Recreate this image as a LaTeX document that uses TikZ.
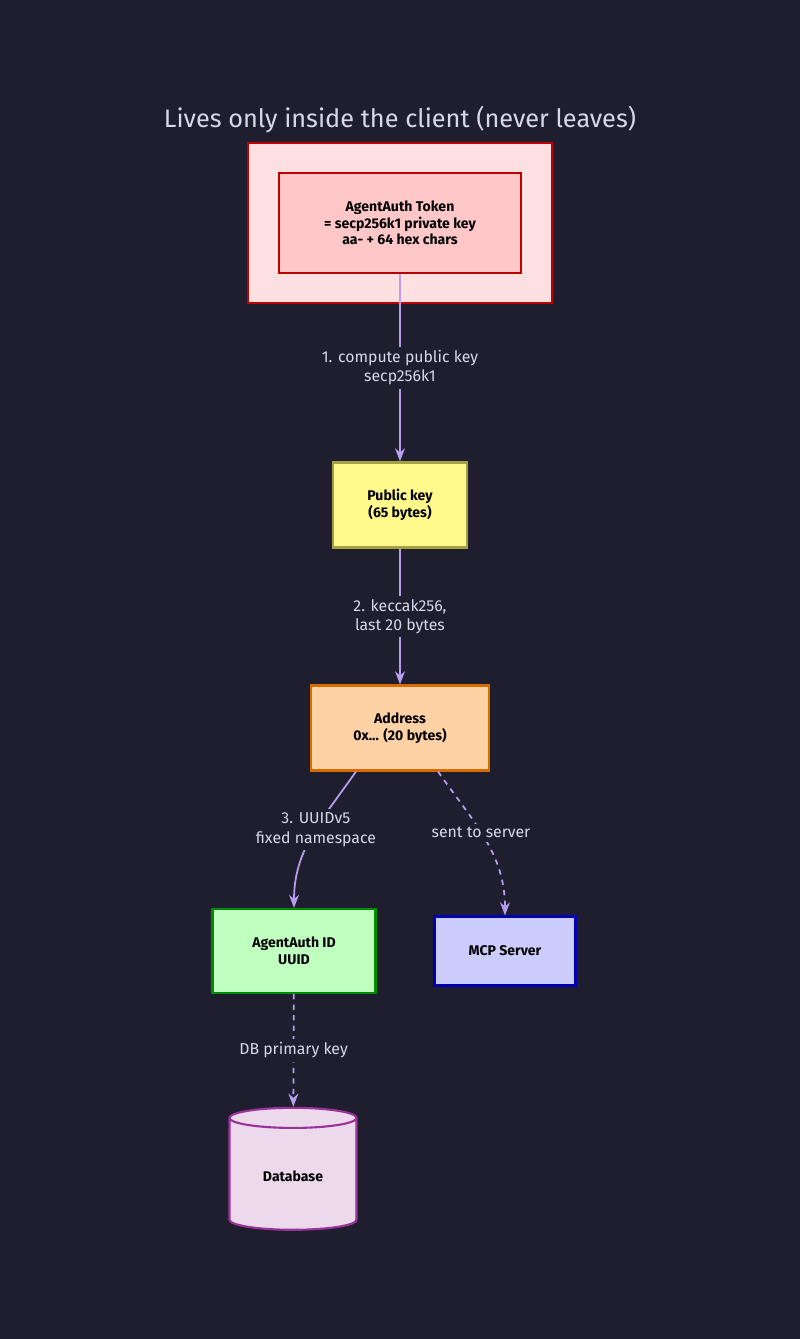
\documentclass[tikz,border=0pt]{standalone}
\usepackage{fontspec}
\setmainfont{Fira Sans}
\usetikzlibrary{positioning,shapes.geometric,arrows.meta}
\definecolor{bgdark}{HTML}{1E1E2E}
\definecolor{flow}{HTML}{B69DF0}
\definecolor{labeltext}{HTML}{D8D8E8}
\begin{document}
\begin{tikzpicture}[>=Stealth,semithick,x=0.02cm,y=-0.02cm,
  box/.style={draw,line width=1.2pt,align=center,font=\footnotesize\bfseries,text=black,inner sep=2pt},
  flowarrow/.style={->,draw=flow,line width=1pt},
  steplabel/.style={fill=bgdark,text=labeltext,font=\small,align=center,inner sep=2pt}]
\fill[bgdark] (0,0) rectangle (800,1339);
\useasboundingbox (0,0) rectangle (800,1339);
\node[text=labeltext,font=\Large] (title) at (400,120) {Lives only inside the client (never leaves)};
\node[box,draw=red!75!black,fill=red!12,minimum width=6.08cm,minimum height=3.2cm] (outer) at (400,223) {};
\node[box,draw=red!75!black,fill=red!22,minimum width=4.84cm,minimum height=2cm] (token) at (400,223)
  {AgentAuth Token\\= secp256k1 private key\\aa- + 64 hex chars};
\node[box,draw=yellow!60!black,fill=yellow!45,minimum width=2.68cm,minimum height=1.7cm] (pubkey) at (400,505)
  {Public key\\(65 bytes)};
\node[box,draw=orange!85!black,fill=orange!35,minimum width=3.56cm,minimum height=1.7cm] (addr) at (400,728)
  {Address\\0x... (20 bytes)};
\node[box,draw=green!55!black,fill=green!25,minimum width=3.26cm,minimum height=1.68cm] (agentid) at (294,951)
  {AgentAuth ID\\UUID};
\node[box,draw=blue!70!black,fill=blue!20,minimum width=2.82cm,minimum height=1.38cm] (mcp) at (505,951)
  {MCP Server};
\node[box,shape=cylinder,shape border rotate=90,aspect=0.3,draw=violet!80,fill=violet!15,
  minimum width=2.54cm,minimum height=2.44cm] (db) at (293,1176) {Database};
% flow of the key
\draw[flowarrow] (token) -- node[steplabel]{1. compute public key\\secp256k1} (pubkey);
\draw[flowarrow] (pubkey) -- node[steplabel]{2. keccak256,\\last 20 bytes} (addr);
\draw[flowarrow] (addr.south west) ++(46,0) coordinate (a1) (a1) to[out=-125,in=90] node[steplabel,pos=0.45]{3. UUIDv5\\fixed namespace} (agentid.north);
\draw[flowarrow,dashed] (addr.south east) ++(-52,0) coordinate (a2) (a2) to[out=-55,in=90] node[steplabel,pos=0.45]{sent to server} (mcp.north);
\draw[flowarrow,dashed] (agentid) -- node[steplabel]{DB primary key} (db);
\end{tikzpicture}
\end{document}
